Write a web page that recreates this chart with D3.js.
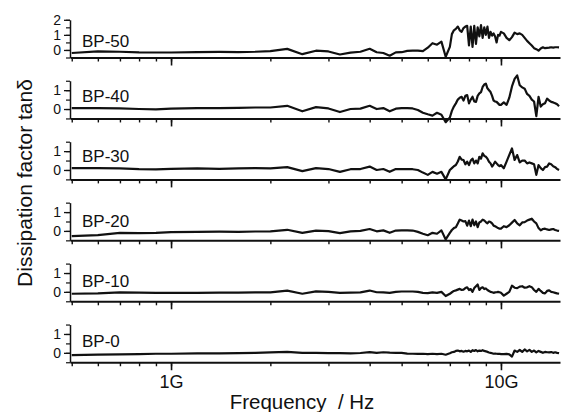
<!DOCTYPE html>
<html>
<head>
<meta charset="utf-8">
<script src="https://cdn.jsdelivr.net/npm/d3@7"></script>
<style>
    body { margin: 0; background: #fff; }
    svg text { font-family: "Liberation Sans", Arial, Helvetica, sans-serif; fill: #111; }
</style>
</head>
<body>
<div id="chart"></div>
<script>
// frequency grid in GHz (shared by all samples)
const freqGHz = [0.5, 0.6, 0.7, 0.8, 0.9, 1.0, 1.2, 1.4, 1.6, 1.8, 2.0, 2.25, 2.5, 2.75, 3.0, 3.25, 3.5, 3.75,
    4.0, 4.2, 4.4, 4.6, 4.8, 5.0, 5.2, 5.4, 5.6, 5.8, 6.0, 6.2, 6.4, 6.6, 6.8, 7.0,
    7.1, 7.2, 7.3, 7.4, 7.5, 7.6, 7.7, 7.8, 7.9, 8.0, 8.1, 8.2, 8.3, 8.4, 8.5, 8.6, 8.7, 8.8, 8.9, 9.0,
    9.1, 9.2, 9.3, 9.4, 9.5, 9.6, 9.7, 9.8, 9.9, 10.0,
    10.2, 10.4, 10.6, 10.8, 11.0, 11.2, 11.4, 11.6, 11.8, 12.0, 12.2, 12.4, 12.6, 12.8, 13.0,
    13.2, 13.4, 13.6, 13.8, 14.0, 14.2, 14.4, 14.6, 14.8, 15.0];

const bp50 = [-0.2, -0.1, -0.12, -0.16, -0.17, -0.17, -0.15, -0.13, -0.14, -0.12, -0.08, 0.07, -0.28, -0.05, -0.1, -0.3, -0.18, -0.12,
    0.08, -0.15, -0.2, -0.38, -0.16, -0.15, -0.06, -0.05, -0.05, -0.08, 0.15, 0.45, 0.35, 0.55, -0.45, 0.2,
    1.05, 1.3, 1.4, 1.55, 1.3, 1.2, 1.45, 1.55, 1.6, 0.3, 1.55, 0.2, 1.6, 0.4, 1.5, 0.9, 1.65, 0.8, 1.5, 1.0,
    1.55, 0.8, 1.2, 0.95, 1.1, 0.9, 0.5, 1.0, 0.95, 1.2,
    1.1, 0.8, 0.65, 0.85, 1.15, 1.05, 1.1, 1.0, 0.8, 0.6, 0.45, 0.3, 0.12, 0.05, -0.05,
    0.1, 0.18, 0.12, 0.14, 0.15, 0.18, 0.16, 0.18, 0.18, 0.17];

const bp40 = [0.05, 0.05, 0.03, 0.0, -0.02, 0.02, 0.05, 0.05, 0.06, 0.08, 0.08, 0.17, -0.12, 0.1, 0.03, -0.16, 0.0, 0.02,
    0.17, 0.0, 0.05, -0.12, 0.02, 0.05, 0.05, 0.03, -0.05, -0.2, -0.28, -0.35, -0.2, -0.3, -0.7, -0.45,
    -0.1, 0.13, 0.3, 0.5, 0.6, 0.65, 0.45, 0.7, 0.74, 0.3, 0.5, 0.65, 0.4, 0.38, 0.7, 0.83, 0.9, 1.17, 1.3, 1.35,
    1.1, 1.0, 0.9, 0.7, 0.45, 0.4, 0.38, 0.3, 0.22, 0.22,
    0.35, 0.22, 0.6, 1.2, 1.6, 1.78, 1.26, 1.15, 1.08, 0.8, 0.7, 0.5, 0.4, -0.38, 0.65,
    0.13, 0.25, 0.31, 0.55, 0.45, 0.38, 0.35, 0.31, 0.25, 0.15];

const bp30 = [0.1, 0.1, 0.08, 0.04, 0.03, 0.06, 0.08, 0.06, 0.08, 0.1, 0.08, 0.15, -0.06, 0.1, 0.05, -0.1, 0.04, 0.05,
    0.18, 0.0, 0.05, -0.1, 0.05, 0.05, 0.05, 0.04, 0.0, -0.14, -0.26, -0.1, -0.2, -0.1, -0.5, 0.0,
    0.1, 0.2, 0.26, 0.45, 0.7, 0.55, 0.53, 0.3, 0.44, 0.26, 0.5, 0.6, 0.35, 0.5, 0.35, 0.7, 0.6, 0.88, 0.75, 0.7,
    0.6, 0.44, 0.35, 0.18, 0.3, 0.44, 0.35, 0.26, 0.2, 0.26,
    0.09, 0.44, 0.8, 1.14, 0.53, 0.79, 0.4, 0.5, 0.5, 0.35, 0.4, 0.35, 0.3, -0.26, 0.26,
    0.1, 0.0, 0.15, 0.18, 0.35, 0.3, 0.2, 0.15, 0.05, 0.0];

const bp20 = [-0.28, -0.22, -0.1, -0.12, -0.1, -0.06, -0.05, -0.04, -0.05, -0.03, -0.02, 0.06, -0.1, 0.02, -0.01, -0.12, -0.02, 0.0,
    0.1, -0.02, 0.03, -0.1, 0.02, 0.03, 0.03, 0.02, -0.05, -0.15, -0.23, -0.1, -0.15, 0.03, -0.45, -0.1,
    0.05, 0.15, 0.2, 0.4, 0.6, 0.55, 0.5, 0.52, 0.28, 0.55, 0.25, 0.6, 0.3, 0.5, 0.2, 0.45, 0.5, 0.6, 0.55, 0.47,
    0.4, 0.5, 0.47, 0.4, 0.28, 0.25, 0.2, 0.15, 0.12, 0.12,
    0.25, 0.2, 0.3, 0.44, 0.58, 0.4, 0.3, 0.45, 0.47, 0.55, 0.6, 0.65, 0.5, 0.4, 0.15,
    0.03, 0.1, 0.12, 0.08, 0.05, 0.08, 0.1, 0.05, 0.02, 0.0];

const bp10 = [-0.1, -0.08, -0.03, -0.04, -0.05, -0.05, -0.05, -0.04, -0.04, -0.03, -0.03, 0.07, -0.1, 0.03, 0.0, -0.05, -0.04, -0.03,
    0.07, -0.02, -0.03, -0.05, 0.0, 0.02, 0.02, 0.02, 0.0, -0.05, -0.07, -0.03, -0.05, 0.0, -0.22, -0.1,
    -0.02, 0.05, 0.08, 0.12, 0.16, 0.1, 0.12, 0.2, 0.24, 0.1, 0.15, 0.0, 0.2, 0.3, 0.39, 0.1, 0.2, 0.24, 0.15, 0.18,
    0.1, 0.05, 0.0, -0.02, -0.05, -0.03, -0.02, 0.0, -0.02, -0.05,
    -0.2, -0.1, 0.0, 0.33, 0.22, 0.2, 0.28, 0.3, 0.22, 0.24, 0.3, 0.25, 0.1, 0.0, 0.16,
    0.05, -0.05, -0.08, 0.05, 0.08, 0.0, -0.02, -0.05, -0.08, -0.1];

const bp0 = [-0.12, -0.1, -0.08, -0.07, -0.05, -0.05, -0.03, -0.03, -0.02, 0.0, 0.02, 0.05, 0.0, 0.0, -0.02, -0.02, -0.03, -0.01,
    0.04, 0.0, 0.03, 0.01, 0.0, 0.0, -0.04, -0.05, -0.06, -0.05, -0.07, -0.05, -0.07, -0.05, -0.1, -0.02,
    0.03, 0.05, 0.1, 0.12, 0.08, 0.1, 0.06, 0.1, 0.08, 0.12, 0.05, 0.14, 0.1, 0.15, 0.08, 0.12, 0.1, 0.14, 0.1, 0.08,
    0.05, 0.02, 0.0, -0.02, -0.05, -0.04, -0.05, -0.06, -0.05, -0.07,
    -0.07, -0.06, -0.08, -0.2, 0.12, 0.05, 0.15, 0.05, 0.18, 0.08, 0.16, 0.05, 0.12, 0.02, 0.1,
    0.05, 0.0, 0.05, 0.03, 0.02, 0.04, 0.0, 0.03, 0.0, -0.02];

const sampleNames = ["BP-50", "BP-40", "BP-30", "BP-20", "BP-10", "BP-0"];
const sampleValues = [bp50, bp40, bp30, bp20, bp10, bp0];
const yTops = [2, 1.5, 1.5, 1.5, 1.5, 1.5];
const yLabelTicks = [[0, 1, 2], [0, 1], [0, 1], [0, 1], [0, 1], [0, 1]];
const xMajorTicks = [1, 10];
const xMajorLabels = ["1G", "10G"];

const width = 562, height = 412;
const left = 70, right = 560;
const panelH = 37.7, firstBottom = 57.5, panelStep = 60.95;
const labelDy = [27, 21, 20, 24, 23, 22];

const svg = d3.select("#chart").append("svg")
    .attr("width", width)
    .attr("height", height);

const x = d3.scaleLog().domain([0.494, 15.1]).range([left, right]);

const line = d3.line()
    .x(d => x(d[0]))
    .y(d => d[1]);

sampleNames.forEach((name, i) => {
    const bottom = firstBottom + i * panelStep;
    const y = d3.scaleLinear().domain([-0.5, yTops[i]]).range([bottom, bottom - panelH]);
    const g = svg.append("g");

    // minor x ticks
    const xMinor = g.append("g")
        .attr("transform", `translate(0,${bottom})`)
        .call(d3.axisBottom(x).tickValues(x.ticks()).tickSize(4).tickSizeOuter(0).tickFormat(""));
    xMinor.select(".domain").attr("stroke", "#111").attr("stroke-width", 2);
    xMinor.selectAll(".tick line").attr("stroke", "#111").attr("stroke-width", 1.4);

    // major x ticks
    const xMajor = g.append("g")
        .attr("transform", `translate(0,${bottom})`)
        .call(d3.axisBottom(x).tickValues(xMajorTicks).tickSize(8).tickSizeOuter(0).tickPadding(5)
            .tickFormat((d, k) => i === sampleNames.length - 1 ? xMajorLabels[k] : ""));
    xMajor.select(".domain").remove();
    xMajor.selectAll(".tick line").attr("stroke", "#111").attr("stroke-width", 1.6);
    xMajor.selectAll(".tick text").attr("font-size", 18).attr("fill", "#111");

    // y axis, minor ticks every 0.5
    const yMinor = g.append("g")
        .attr("transform", `translate(${left},0)`)
        .call(d3.axisLeft(y).tickValues(d3.range(-0.5, yTops[i] + 0.01, 0.5)).tickSize(4).tickSizeOuter(0).tickFormat(""));
    yMinor.select(".domain").attr("stroke", "#111").attr("stroke-width", 1.5);
    yMinor.selectAll(".tick line").attr("stroke", "#111").attr("stroke-width", 1.2);

    const yMajor = g.append("g")
        .attr("transform", `translate(${left},0)`)
        .call(d3.axisLeft(y).tickValues(yLabelTicks[i]).tickSize(6).tickSizeOuter(0).tickPadding(3).tickFormat(d3.format("d")));
    yMajor.select(".domain").remove();
    yMajor.selectAll(".tick line").attr("stroke", "#111").attr("stroke-width", 1.3);
    yMajor.selectAll(".tick text").attr("font-size", 14).attr("fill", "#111");

    // curve
    const pts = freqGHz.map((f, k) => [f, y(sampleValues[i][k])]);
    g.append("path")
        .datum(pts)
        .attr("d", line)
        .attr("fill", "none")
        .attr("stroke", "#111")
        .attr("stroke-width", 2.2)
        .attr("stroke-linejoin", "round");

    g.append("text")
        .attr("x", 82)
        .attr("y", bottom - panelH + labelDy[i])
        .attr("font-size", 17)
        .text(name);
});

svg.append("text")
    .attr("x", 302)
    .attr("y", 409)
    .attr("text-anchor", "middle")
    .attr("font-size", 20.5)
    .attr("xml:space", "preserve")
    .text("Frequency  / Hz");

svg.append("text")
    .attr("transform", "translate(32,183) rotate(-90)")
    .attr("text-anchor", "middle")
    .attr("font-size", 21)
    .text("Dissipation factor tan\u03b4");
</script>
</body>
</html>
